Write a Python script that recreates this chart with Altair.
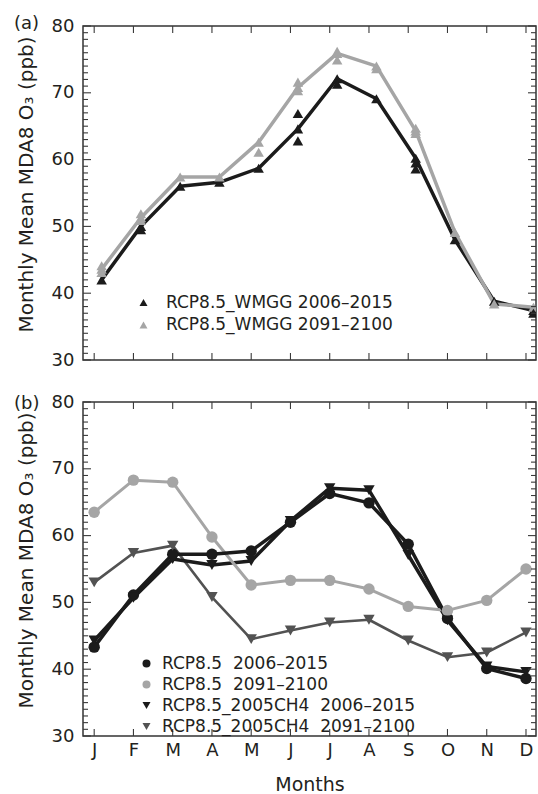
import json

import altair as alt
import pandas as pd

FONT = "DejaVu Sans"
INK = "#231f20"
TICK = "#3a3a3a"
BLACK = "#1b1b1b"
GRAY = "#a5a5a5"
DARK = "#525252"

W, H = 453, 334
X_DOMAIN = [0.715, 12.255]
Y_DOMAIN = [30, 80]
A_SHIFT = 0.19  # panel (a) markers sit slightly right of the month ticks

MONTH_LABELS = ["J", "F", "M", "A", "M", "J", "J", "A", "S", "O", "N", "D"]
MONTHS = list(range(1, 13))

# Panel (a): RCP8.5_WMGG monthly mean MDA8 O3 (ppb)
WMGG_EARLY = [42.0, 50.0, 56.0, 56.6, 58.7, 64.6, 72.1, 69.1, 60.2, 48.0, 38.8, 37.4]
WMGG_LATE = [43.6, 51.3, 57.4, 57.4, 62.6, 70.8, 75.9, 74.0, 64.3, 49.1, 38.4, 37.9]
WMGG_EARLY_EXTRA_MONTH = [2, 6, 6, 7, 9, 9, 12]
WMGG_EARLY_EXTRA = [49.5, 66.9, 62.8, 71.3, 59.5, 58.6, 37.0]
WMGG_LATE_EXTRA_MONTH = [1, 1, 2, 2, 5, 6, 6, 7, 7, 8, 9, 9]
WMGG_LATE_EXTRA = [44.1, 43.1, 51.9, 50.9, 61.1, 71.6, 70.3, 76.2, 74.9, 73.6, 64.7, 63.9]

# Panel (b): RCP8.5 and RCP8.5_2005CH4 monthly mean MDA8 O3 (ppb)
RCP_EARLY = [43.3, 51.1, 57.2, 57.2, 57.7, 62.0, 66.3, 64.9, 58.7, 47.6, 40.1, 38.6]
RCP_LATE = [63.5, 68.3, 68.0, 59.8, 52.6, 53.3, 53.3, 52.0, 49.4, 48.8, 50.3, 55.0]
CH4_EARLY = [44.3, 50.7, 56.5, 55.6, 56.2, 62.2, 67.1, 66.8, 57.1, 47.3, 40.4, 39.6]
CH4_LATE = [53.0, 57.4, 58.5, 50.8, 44.5, 45.8, 47.0, 47.4, 44.3, 41.8, 42.5, 45.5]

SERIES_A = ["RCP8.5_WMGG 2006–2015", "RCP8.5_WMGG 2091–2100"]
COLORS_A = [BLACK, GRAY]
WIDTHS_A = [3.5, 3.5]

SERIES_B = [
    "RCP8.5\u00a0 2006–2015",
    "RCP8.5\u00a0 2091–2100",
    "RCP8.5_2005CH4\u00a0 2006–2015",
    "RCP8.5_2005CH4\u00a0 2091–2100",
]
COLORS_B = [BLACK, GRAY, BLACK, DARK]
SHAPES_B = ["circle", "circle", "triangle-down", "triangle-down"]
WIDTHS_B = [3.5, 3.0, 3.5, 2.6]


def long_table(names, columns, months=None):
    rows = []
    for i, (name, vals) in enumerate(zip(names, columns)):
        ms = months[i] if months else MONTHS
        for m, v in zip(ms, vals):
            rows.append({"month": m, "o3": v, "series": name})
    return pd.DataFrame(rows)


df_a_mean = long_table(SERIES_A, [WMGG_EARLY, WMGG_LATE])
df_a_member = long_table(
    SERIES_A,
    [WMGG_EARLY_EXTRA, WMGG_LATE_EXTRA],
    months=[WMGG_EARLY_EXTRA_MONTH, WMGG_LATE_EXTRA_MONTH],
)
df_a_points = pd.concat([df_a_mean, df_a_member], ignore_index=True).rename(
    columns={"series": "series_a"}
)
df_b = long_table(SERIES_B, [RCP_EARLY, RCP_LATE, CH4_EARLY, CH4_LATE])
df_b_points = df_b.rename(columns={"series": "series_b"})

xscale = alt.Scale(domain=X_DOMAIN, nice=False, zero=False)
yscale = alt.Scale(domain=Y_DOMAIN, nice=False, zero=False)

label_expr = f"{json.dumps(MONTH_LABELS)}[datum.value - 1]"

y_axis = alt.Axis(
    values=[30, 40, 50, 60, 70, 80],
    ticks=False,
    tickSize=0,
    domain=False,
    grid=False,
    labelFont=FONT,
    labelFontSize=18,
    labelColor=INK,
    labelPadding=9,
    title="Monthly Mean MDA8 O₃ (ppb)",
    titleFont=FONT,
    titleFontSize=20,
    titleFontWeight="normal",
    titleColor=INK,
    titlePadding=15,
    titleY=158,
)

x_axis_b = alt.Axis(
    values=MONTHS,
    labelExpr=label_expr,
    ticks=False,
    tickSize=0,
    domain=False,
    grid=False,
    labelFont=FONT,
    labelFontSize=18,
    labelColor=INK,
    labelPadding=5,
    labelAngle=0,
    title="Months",
    titleFont=FONT,
    titleFontSize=19,
    titleFontWeight="normal",
    titleColor=INK,
    titlePadding=16,
)


def frame_ticks(x_axis):
    """Inward-pointing ticks on all four sides of a panel."""
    major = pd.DataFrame({"v": [v for v in range(30, 81) if v % 10 == 0]})
    minor = pd.DataFrame({"v": [v for v in range(30, 81) if v % 10 != 0]})
    mt = pd.DataFrame({"m": MONTHS})
    layers = []
    for df, ln in ((major, 8), (minor, 5)):
        base = alt.Chart(df).mark_rule(color=TICK, strokeWidth=1.1)
        yenc = alt.Y("v:Q", scale=yscale, axis=y_axis)
        layers.append(base.encode(y=yenc, x=alt.value(0), x2=alt.value(ln)))
        layers.append(base.encode(y=yenc, x=alt.value(W), x2=alt.value(W - ln)))
    base = alt.Chart(mt).mark_rule(color=TICK, strokeWidth=1.1)
    xenc = alt.X("m:Q", scale=xscale, axis=x_axis)
    layers.append(base.encode(x=xenc, y=alt.value(0), y2=alt.value(7)))
    layers.append(base.encode(x=xenc, y=alt.value(H), y2=alt.value(H - 7)))
    return layers


def panel_label(text, y):
    return (
        alt.Chart(pd.DataFrame({"t": [text]}))
        .mark_text(align="left", baseline="alphabetic", font=FONT, fontSize=18, color=INK)
        .encode(x=alt.value(-69), y=alt.value(y), text="t:N")
    )


def legend(x, y, label_offset, row_padding, symbol_type=None):
    opts = dict(
        title=None,
        orient="none",
        legendX=x,
        legendY=y,
        direction="vertical",
        symbolSize=64,
        symbolStrokeWidth=0,
        labelFont=FONT,
        labelFontSize=17,
        labelColor=INK,
        labelOffset=label_offset,
        labelLimit=400,
        rowPadding=row_padding,
        padding=0,
        symbolOffset=0,
    )
    if symbol_type:
        opts["symbolType"] = symbol_type
    return alt.Legend(**opts)


def series_lines(df, names, colors, widths, x_enc, y_enc, shift=None):
    """One line layer per series, drawn in the series' own colour and width."""
    layers = []
    for name, c, w in zip(names, colors, widths):
        base = alt.Chart(df).transform_filter(alt.datum.series == name)
        if shift is not None:
            base = base.transform_calculate(mx=f"datum.month + {shift}")
        layers.append(
            base.mark_line(color=c, strokeWidth=w, strokeJoin="round", clip=True).encode(
                x=x_enc, y=y_enc
            )
        )
    return layers


# ---------- panel (a) ----------
color_a = alt.Scale(domain=SERIES_A, range=COLORS_A)
legend_a = legend(52, 268, 14, 4.5, "triangle-up")

xa = alt.X("mx:Q", scale=xscale, axis=None)
ya = alt.Y("o3:Q", scale=yscale, axis=y_axis)

points_a = (
    alt.Chart(df_a_points)
    .transform_calculate(mx=f"datum.month + {A_SHIFT}")
    .mark_point(shape="triangle-up", filled=True, size=110, opacity=1, clip=True)
    .encode(
        x=xa,
        y=ya,
        color=alt.Color("series_a:N", scale=color_a, legend=legend_a),
    )
)

panel_a = alt.layer(
    *series_lines(df_a_mean, SERIES_A, COLORS_A, WIDTHS_A, xa, ya, shift=A_SHIFT),
    points_a,
    *frame_ticks(None),
    panel_label("(a)", 3),
).properties(width=W, height=H)

# ---------- panel (b) ----------
color_b = alt.Scale(domain=SERIES_B, range=COLORS_B)
shape_b = alt.Scale(domain=SERIES_B, range=SHAPES_B)
legend_b = legend(55, 253, 7, 3)

xb = alt.X("month:Q", scale=xscale, axis=x_axis_b)
yb = alt.Y("o3:Q", scale=yscale, axis=y_axis)

points_b = (
    alt.Chart(df_b_points)
    .mark_point(filled=True, size=130, opacity=1, clip=True)
    .encode(
        x=xb,
        y=yb,
        color=alt.Color("series_b:N", scale=color_b, legend=legend_b),
        shape=alt.Shape("series_b:N", scale=shape_b, legend=legend_b),
    )
)

panel_b = alt.layer(
    *series_lines(df_b, SERIES_B[::-1], COLORS_B[::-1], WIDTHS_B[::-1], xb, yb),
    points_b,
    *frame_ticks(x_axis_b),
    panel_label("(b)", 7),
).properties(width=W, height=H)

chart = (
    alt.vconcat(panel_a, panel_b, spacing=22)
    .resolve_scale(color="independent", shape="independent")
    .properties(padding={"left": 13, "top": 14, "right": 0, "bottom": 0}, background="white")
    .configure_view(stroke="#333333", strokeWidth=1.5)
)

chart.save("out.html", embed_options={"renderer": "svg", "actions": False})
